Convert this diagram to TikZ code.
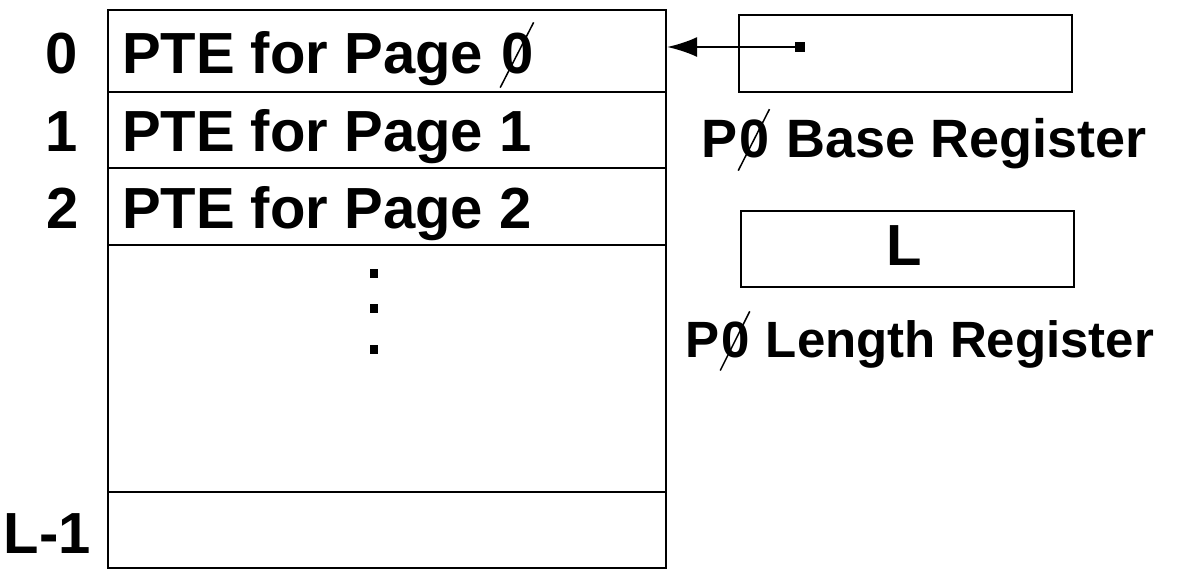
\documentclass[tikz,border=0pt]{standalone}
\usepackage{fontspec}
\setmainfont{Liberation Sans}
\usetikzlibrary{arrows.meta}
\begin{document}
\begin{tikzpicture}[x=0.5pt,y=-0.5pt, line width=1.1pt,
  cell/.style={draw, minimum width=279pt, inner sep=0pt},
  reg/.style={draw, minimum width=166.5pt, inner sep=0pt},
  big/.style={font=\fontsize{29}{34}\selectfont\bfseries, inner sep=0pt},
  lab/.style={font=\fontsize{25.5}{30}\selectfont\bfseries, inner sep=0pt},
  labb/.style={font=\fontsize{27}{32}\selectfont\bfseries, inner sep=0pt},
  blob/.style={fill, inner sep=0pt, minimum width=4pt, minimum height=4.5pt},
  slash/.style={line width=0.75pt}]
\useasboundingbox (0,0) rectangle (1193,575);
% table rows
\node[cell, minimum height=41pt] (r0) at (387,51) {};
\node[cell, minimum height=38pt] (r1) at (387,130) {};
\node[cell, minimum height=38.5pt] (r2) at (387,206.5) {};
\node[cell, minimum height=123.5pt] (rd) at (387,368.5) {};
\node[cell, minimum height=38pt] (rl) at (387,530) {};
% row texts
\node[big, anchor=base west] (t0) at (121,73) {PTE for Page};
\node[big, anchor=base west] (z0) at ([xshift=8pt]t0.base east) {0};
\draw[slash] ([yshift=-6.5pt]z0.south west) -- ([xshift=-0.5pt,yshift=4.5pt]z0.north east);
\node[big, anchor=base west] (t1) at (121,151) {PTE for Page 1};
\node[big, anchor=base west] (t2) at (121,228) {PTE for Page 2};
% indices
\node[big, anchor=base east] (i0) at (79,73) {0};
\node[big, anchor=base east] (i1) at (79,151) {1};
\node[big, anchor=base east] (i2) at (80,228) {2};
\node[big, anchor=base east] (il) at (92,553) {L-1};
% dots
\node[blob] (d1) at (374,273) {};
\node[blob] (d2) at (374,308) {};
\node[blob] (d3) at (374,349) {};
% base register
\node[reg, minimum height=38.5pt] (basereg) at (905.5,53.5) {};
\node[blob, minimum width=5pt, minimum height=5pt] (ptr) at (800,47) {};
\draw[-{Latex[length=15pt,width=10pt]}] (ptr.center) -- (ptr -| r0.east);
\node[labb, anchor=base west] (bp) at (700,157) {P};
\node[labb, anchor=base west] (bz) at (bp.base east) {0};
\draw[slash] ([yshift=-6pt]bz.south west) -- ([xshift=-0.5pt,yshift=4.5pt]bz.north east);
\node[labb, anchor=base west] (bt) at ([xshift=7.5pt]bz.base east) {Base Register};
% length register
\node[reg, minimum height=38pt] (lenreg) at (907.5,249) {};
\node[big, anchor=base] (lval) at (904,265) {L};
\node[lab, anchor=base west] (lp) at (684,357) {P};
\node[lab, anchor=base west] (lz) at (lp.base east) {0};
\draw[slash] ([yshift=-6pt]lz.south west) -- ([xshift=-0.5pt,yshift=4.5pt]lz.north east);
\node[lab, anchor=base west] (lt) at ([xshift=7pt]lz.base east) {Length Register};
\end{tikzpicture}
\end{document}
